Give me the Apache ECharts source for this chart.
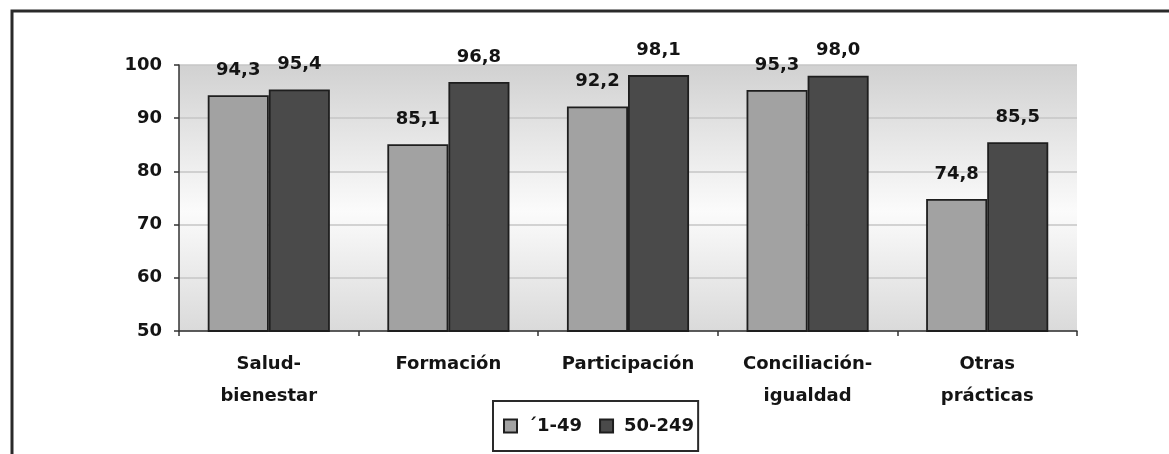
<!DOCTYPE html>
<html>
<head>
<meta charset="utf-8">
<script src="https://cdn.jsdelivr.net/npm/echarts@6/dist/echarts.min.js"></script>
<style>
  html, body { margin: 0; padding: 0; background: #ffffff; }
  #chart { width: 1169px; height: 454px; }
</style>
</head>
<body>
<div id="chart"></div>
<script>
// Practice categories (two-line labels where the original wraps)
const categories = ['Salud-\nbienestar', 'Formación', 'Participación', 'Conciliación-\nigualdad', 'Otras\nprácticas'];
// Company size bands
const seriesNames = ['´1-49', '50-249'];
// Percentages per size band
const small = [94.3, 85.1, 92.2, 95.3, 74.8];
const medium = [95.4, 96.8, 98.1, 98.0, 85.5];
// Value axis range
const yMin = 50, yMax = 100, yStep = 10;

const FONT = '"DejaVu Sans", "Liberation Sans", Arial, sans-serif';
const INK = '#141414';
const fmt = v => v.toFixed(1).replace('.', ',');

const chart = echarts.init(document.getElementById('chart'), null, { renderer: 'canvas' });

function barSeries(name, data, color) {
  return {
    name: name,
    type: 'bar',
    data: data,
    barGap: '0%',
    barCategoryGap: '32%',
    itemStyle: { color: color, borderColor: '#1e1e1e', borderWidth: 1.8 },
    label: {
      show: true,
      position: 'top',
      distance: 16,
      formatter: p => fmt(p.value),
      fontFamily: FONT,
      fontWeight: 'bold',
      fontSize: 18,
      color: INK
    },
    emphasis: { disabled: true }
  };
}

chart.setOption({
  animation: false,
  backgroundColor: '#ffffff',
  graphic: [{
    type: 'rect',
    shape: { x: 12, y: 11, width: 1200, height: 500 },
    style: { fill: 'none', stroke: '#2a2a2a', lineWidth: 3 },
    silent: true,
    z: -1
  }],
  grid: {
    left: 179, right: 92, top: 65, bottom: 123,
    show: true,
    borderWidth: 0,
    backgroundColor: {
      type: 'linear', x: 0, y: 0, x2: 0, y2: 1,
      colorStops: [
        { offset: 0, color: '#d1d1d1' },
        { offset: 0.55, color: '#fbfbfb' },
        { offset: 1, color: '#dadada' }
      ]
    }
  },
  legend: {
    data: seriesNames,
    left: 493,
    top: 401,
    orient: 'horizontal',
    padding: [16, 4, 16, 10],
    itemWidth: 13,
    itemHeight: 13,
    itemGap: 17,
    borderColor: '#2a2a2a',
    borderWidth: 2,
    icon: 'rect',
    textStyle: {
      fontFamily: FONT,
      fontWeight: 'bold',
      fontSize: 18,
      color: INK,
      padding: [0, 0, 0, 6]
    }
  },
  xAxis: {
    type: 'category',
    data: categories,
    axisLine: { lineStyle: { color: '#333333', width: 1.5 } },
    axisTick: { show: true, length: 5, lineStyle: { color: '#333333', width: 1.5 } },
    axisLabel: {
      fontFamily: FONT,
      fontWeight: 'bold',
      fontSize: 18,
      lineHeight: 32,
      color: INK,
      margin: 17,
      interval: 0
    }
  },
  yAxis: {
    type: 'value',
    min: yMin,
    max: yMax,
    interval: yStep,
    axisLine: { show: true, lineStyle: { color: '#333333', width: 1.5 } },
    axisTick: { show: true, length: 5, lineStyle: { color: '#333333', width: 1.5 } },
    splitLine: { show: true, lineStyle: { color: '#c6c6c6', width: 1.5 } },
    axisLabel: {
      fontFamily: FONT,
      fontWeight: 'bold',
      fontSize: 18,
      color: INK,
      margin: 17
    }
  },
  series: [
    barSeries(seriesNames[0], small, '#a2a2a2'),
    barSeries(seriesNames[1], medium, '#4a4a4a')
  ]
});
</script>
</body>
</html>
